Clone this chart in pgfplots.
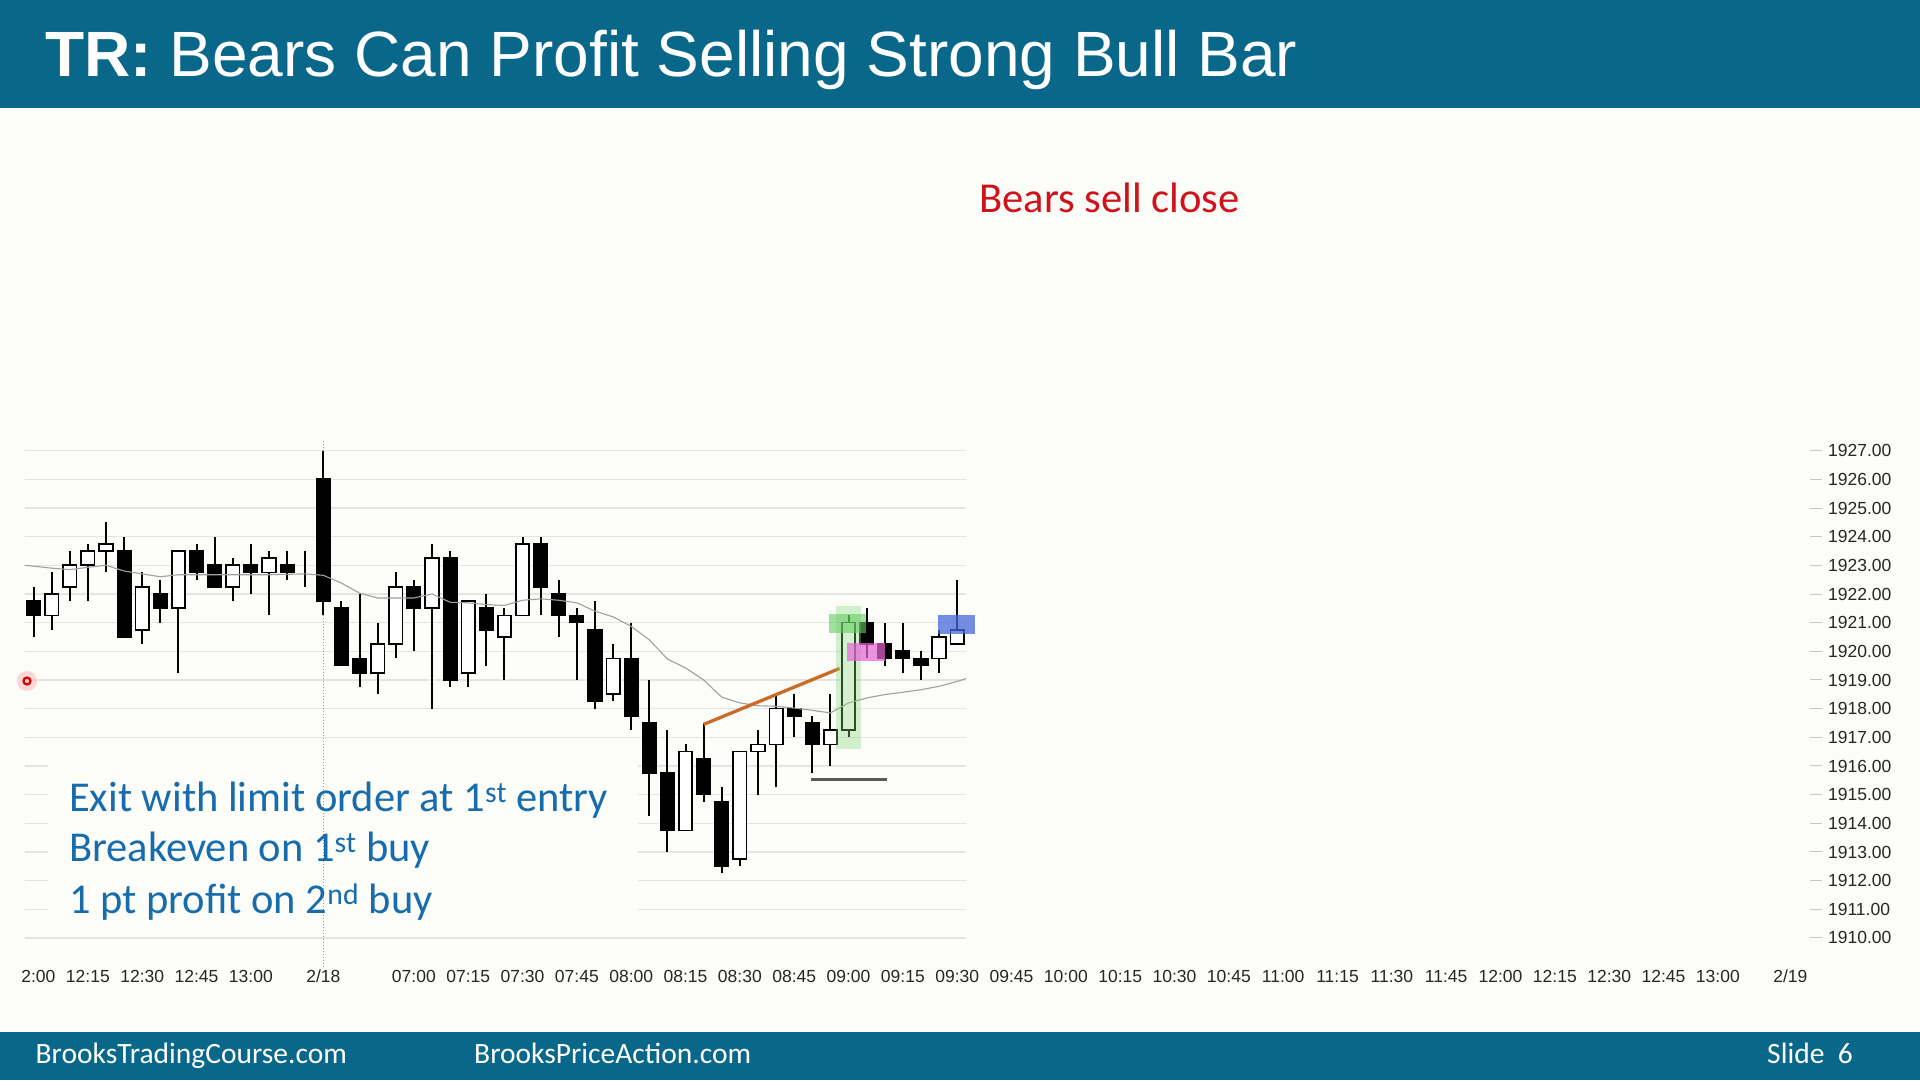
\documentclass[border=0pt]{standalone}
\usepackage{pgfplots}
\pgfplotsset{compat=1.18}
\usepackage{pgfplotstable}
\usepackage{fontspec}
\setmainfont{Liberation Sans}
\newfontfamily\calibri{Carlito}
\definecolor{barcol}{RGB}{9,104,137}
\definecolor{bgcol}{RGB}{252,252,248}
\definecolor{gridcol}{RGB}{228,228,226}
\definecolor{txtblue}{RGB}{22,108,172}
\definecolor{txtred}{RGB}{208,18,26}
\definecolor{macol}{RGB}{160,160,160}
\definecolor{orangeline}{RGB}{200,108,40}
\definecolor{hlgreen}{RGB}{130,215,120}
\definecolor{hldgreen}{RGB}{100,205,100}
\definecolor{hlpink}{RGB}{232,100,215}
\definecolor{hlblue}{RGB}{70,105,220}

\pgfplotstableread{
i o h l c
-21 1921.75 1922.25 1920.5 1921.25
-20 1921.25 1922.75 1920.75 1922.0
-19 1922.25 1923.5 1921.75 1923.0
-18 1923.0 1923.75 1921.75 1923.5
-17 1923.5 1924.5 1922.75 1923.75
-16 1923.5 1924.0 1920.5 1920.5
-15 1920.75 1922.75 1920.25 1922.25
-14 1922.0 1922.5 1921.0 1921.5
-13 1921.5 1923.5 1919.25 1923.5
-12 1923.5 1923.75 1922.5 1922.75
-11 1923.0 1924.0 1922.25 1922.25
-10 1922.25 1923.25 1921.75 1923.0
-9 1923.0 1923.75 1922.0 1922.75
-8 1922.75 1923.5 1921.25 1923.25
-7 1923.0 1923.5 1922.5 1922.75
-6 1922.75 1923.5 1922.25 1922.75
-5 1926.0 1927.0 1921.25 1921.75
-4 1921.5 1921.75 1919.5 1919.5
-3 1919.75 1922.0 1918.75 1919.25
-2 1919.25 1921.0 1918.5 1920.25
-1 1920.25 1922.75 1919.75 1922.25
0 1922.25 1922.5 1920.0 1921.5
1 1921.5 1923.75 1918.0 1923.25
2 1923.25 1923.5 1918.75 1919.0
3 1919.25 1921.75 1918.75 1921.75
4 1921.5 1922.0 1919.5 1920.75
5 1920.5 1921.5 1919.0 1921.25
6 1921.25 1924.0 1921.25 1923.75
7 1923.75 1924.0 1921.25 1922.25
8 1922.0 1922.5 1920.5 1921.25
9 1921.25 1921.5 1919.0 1921.0
10 1920.75 1921.75 1918.0 1918.25
11 1918.5 1920.25 1918.25 1919.75
12 1919.75 1921.0 1917.25 1917.75
13 1917.5 1919.0 1914.25 1915.75
14 1915.75 1917.25 1913.0 1913.75
15 1913.75 1916.75 1913.75 1916.5
16 1916.25 1917.5 1914.75 1915.0
17 1914.75 1915.25 1912.25 1912.5
18 1912.75 1916.5 1912.5 1916.5
19 1916.5 1917.25 1915.0 1916.75
20 1916.75 1918.5 1915.25 1918.0
21 1918.0 1918.5 1917.0 1917.75
22 1917.5 1917.75 1915.75 1916.75
23 1916.75 1918.5 1916.0 1917.25
24 1917.25 1921.25 1917.0 1921.0
25 1921.0 1921.5 1919.75 1920.25
26 1920.25 1921.0 1919.5 1919.75
27 1920.0 1921.0 1919.25 1919.75
28 1919.75 1920.0 1919.0 1919.5
29 1919.75 1920.75 1919.25 1920.5
30 1920.25 1922.5 1920.25 1920.75
}\ohlc

\pgfplotstableread{
i v
-21.5 1923.0
-21 1922.97
-20 1922.9
-19 1922.85
-18 1922.93
-17 1923.0
-16 1922.8
-15 1922.7
-14 1922.6
-13 1922.67
-12 1922.67
-10 1922.67
-8 1922.67
-6 1922.7
-5 1922.65
-4 1922.38
-3 1922.03
-2 1921.86
-1 1921.86
0 1921.86
1 1922.0
2 1921.71
3 1921.69
4 1921.63
5 1921.6
6 1921.78
7 1921.83
8 1921.78
9 1921.69
10 1921.4
11 1921.2
12 1920.87
13 1920.4
14 1919.73
15 1919.42
16 1919.0
17 1918.4
18 1918.2
19 1918.1
20 1918.08
21 1918.02
22 1917.94
23 1917.85
24 1918.2
25 1918.37
26 1918.49
27 1918.57
28 1918.66
29 1918.78
30 1918.95
30.5 1919.05
}\ma

\pgfplotsset{base/.style={scale only axis, width=1785.5pt, height=516pt,
  xmin=-21.5, xmax=77.09, at={(24.5pt,127.7pt)}, anchor=south west}}

\begin{document}
\begin{tikzpicture}[x=1pt,y=1pt]
\path[use as bounding box] (0,0) rectangle (1920,1080);
\fill[bgcol] (0,0) rectangle (1920,1080);
\fill[barcol] (0,972.3) rectangle (1920,1080);
\fill[barcol] (0,0) rectangle (1920,47.7);

\begin{axis}[base, ymin=1909.5, ymax=1927.5, clip=false,
  axis line style={draw=none},
  ytick={1910,...,1927}, ytick pos=right, yticklabel pos=right,
  tick align=outside, major tick length=12pt,
  ytick style={draw=gray!45, line width=1pt},
  xtick style={draw=none},
  yticklabel={\pgfmathprintnumber[fixed,fixed zerofill,precision=2,1000 sep={}]{\tick}},
  ticklabel style={font=\fontsize{17.5}{20}\selectfont, text=black!85},
  yticklabel style={xshift=2.5pt},
  xticklabel style={text height=12.6pt, text depth=0pt, yshift=-2pt},
  /pgf/number format/assume math mode=true,
  xtick={-21,-18,-15,-12,-9,-5,0,3,...,72,76},
  xticklabels={{\phantom{1}2:00},12:15,12:30,12:45,13:00,2/18,07:00,07:15,07:30,07:45,08:00,08:15,08:30,08:45,09:00,09:15,09:30,09:45,10:00,10:15,10:30,10:45,11:00,11:15,11:30,11:45,12:00,12:15,12:30,12:45,13:00,2/19},
]
\pgfplotsinvokeforeach{1910,...,1927}{\addplot[gridcol, line width=1.3pt, forget plot] coordinates {(-21.5,#1) (30.5,#1)};}
\addplot[fill=bgcol, draw=none, forget plot] coordinates {(-20.2,1916.45) (12.35,1916.45) (12.35,1910.55) (-20.2,1910.55)} --cycle;
\addplot[gray!80, dotted, line width=1pt, forget plot] coordinates {(-5,1927.35) (-5,1909.0)};
\addplot[draw=none, mark=none, forget plot, error bars/.cd, y dir=plus, y explicit, error mark=none,
  error bar style={line width=2pt, draw=black, solid}]
  table[x=i, y=l, y error expr=\thisrow{h}-\thisrow{l}] {\ohlc};
\end{axis}

\begin{axis}[base, hide axis, ymin=0, ymax=18, ybar stacked, bar width=13.5pt]
\addplot[draw=none, fill=none] table[x=i, y expr={min(\thisrow{o},\thisrow{c})-1909.5}] {\ohlc};
\addplot[fill=white, draw=black, line width=1.7pt] table[x=i, y expr={max(\thisrow{c}-\thisrow{o},0)}] {\ohlc};
\addplot[fill=black, draw=black, line width=1.7pt] table[x=i, y expr={max(\thisrow{o}-\thisrow{c},0)}] {\ohlc};
\end{axis}

\begin{axis}[base, hide axis, ymin=1909.5, ymax=1927.5]
\addplot[macol, line width=1.1pt] table[x=i,y=v] {\ma};
\addplot[orangeline, line width=3.3pt] coordinates {(16,1917.45) (23.5,1919.4)};
\addplot[black!65, line width=3.5pt] coordinates {(21.93,1915.52) (26.1,1915.52)};
\addplot[fill=hlgreen, draw=none, opacity=0.35] coordinates {(23.3,1916.59) (24.67,1916.59) (24.67,1921.59) (23.3,1921.59)} --cycle;
\addplot[fill=hldgreen, draw=none, opacity=0.6] coordinates {(22.93,1920.64) (24.96,1920.64) (24.96,1921.3) (22.93,1921.3)} --cycle;
\addplot[fill=hlpink, draw=none, opacity=0.7] coordinates {(23.93,1919.65) (26.0,1919.65) (26.0,1920.29) (23.93,1920.29)} --cycle;
\addplot[fill=hlblue, draw=none, opacity=0.75] coordinates {(28.95,1920.62) (31.0,1920.62) (31.0,1921.28) (28.95,1921.28)} --cycle;
\end{axis}

% cursor highlight
\fill[red!25, opacity=0.6] (27,399) circle (10);
\draw[red!85!black, line width=2.2] (27,399) circle (3.5);

\node[anchor=base west, inner sep=0, text=white, font=\fontsize{64}{70}\selectfont] at (45,1003) {\textbf{TR:} Bears Can Profit Selling Strong Bull Bar};
\node[anchor=base west, inner sep=0, text=txtred, font=\calibri\fontsize{42.6}{48}\selectfont] at (979,867.3) {Bears sell close};
\begin{scope}[every node/.style={anchor=base west, inner sep=0, text=txtblue, font=\calibri\fontsize{42.5}{48}\selectfont}]
\node at (69,268.3) {Exit with limit order at 1\textsuperscript{st} entry};
\node at (69,218.1) {Breakeven on 1\textsuperscript{st} buy};
\node at (69,166.7) {1 pt profit on 2\textsuperscript{nd} buy};
\end{scope}
\begin{scope}[every node/.style={anchor=base west, inner sep=0, text=white, font=\calibri\fontsize{29.5}{34}\selectfont}]
\node at (35.5,17) {BrooksTradingCourse.com};
\node at (474,17) {BrooksPriceAction.com};
\node at (1767,17) {Slide\ \ 6};
\end{scope}
\end{tikzpicture}
\end{document}
